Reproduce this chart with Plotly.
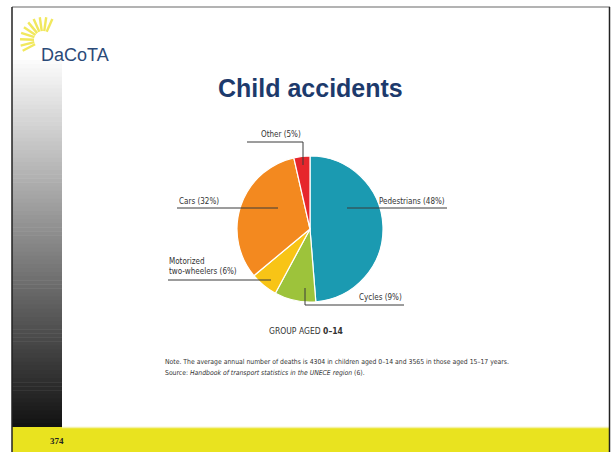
import math
import plotly.graph_objects as go

W, H = 614, 452

categories = ["Pedestrians", "Cycles", "Motorized two-wheelers", "Cars", "Other"]
shares = [48, 9, 6, 32, 3.5]          # slice sizes as drawn
label_pct = [48, 9, 6, 32, 5]         # percentages printed in labels
colors = ["#1b9ab1", "#9dc33b", "#f8c416", "#f3891f", "#e6262c"]

title = "Child accidents"
group_label = "GROUP AGED <b>0\u201314</b>"
note_line = "Note. The average annual number of deaths is 4304 in children aged 0\u201314 and 3565 in those aged 15\u201317 years."
source_line = "Source: <i>Handbook of transport statistics in the UNECE region</i> (6)."
page_number = "374"

def px(x):
    return x / W

def py(y):
    return 1 - y / H

NARROW = "Liberation Sans Narrow, DejaVu Sans Condensed, Arial Narrow, sans-serif"
SANS = "Liberation Sans, Arial, sans-serif"

fig = go.Figure()

# Pie
cx, cy, r = 310, 229, 73
fig.add_trace(go.Pie(
    labels=categories, values=shares, sort=False, direction="clockwise", rotation=0,
    marker=dict(colors=colors, line=dict(color="white", width=1.2)),
    textinfo="none", showlegend=False, hole=0,
    domain=dict(x=[px(cx - r), px(cx + r)], y=[py(cy + r), py(cy - r)]),
))

shapes = []
# left gradient bar
top, bot = 60, 427
n = 90
for i in range(n):
    y0 = top + (bot - top) * i / n
    y1 = top + (bot - top) * (i + 1) / n
    f = (i + 0.5) / n
    g = int(round(252 - f * 235))
    shapes.append(dict(type="rect", xref="paper", yref="paper", x0=px(12), x1=px(62),
                       y0=py(y1 + 0.5), y1=py(y0), fillcolor=f"rgb({g},{g},{g})",
                       line=dict(width=0), layer="below"))
# yellow footer
shapes.append(dict(type="rect", xref="paper", yref="paper", x0=px(12), x1=px(610),
                   y0=0, y1=py(427), fillcolor="#e9e31f", line=dict(width=0), layer="below"))
shapes.append(dict(type="line", xref="paper", yref="paper", x0=px(62), x1=px(610),
                   y0=py(427.5), y1=py(427.5), line=dict(color="#f4f1a8", width=1.5)))
# borders
shapes.append(dict(type="line", xref="paper", yref="paper", x0=px(12), x1=px(610),
                   y0=py(7), y1=py(7), line=dict(color="#9a9a9a", width=1.5)))
shapes.append(dict(type="line", xref="paper", yref="paper", x0=px(12), x1=px(12),
                   y0=0, y1=py(7), line=dict(color="#222222", width=1.5)))
shapes.append(dict(type="line", xref="paper", yref="paper", x0=px(609.5), x1=px(609.5),
                   y0=0, y1=py(7), line=dict(color="#222222", width=1.5)))

# sun rays of logo
scx, scy = 43, 40
for ang in [66, 82, 98, 114, 130, 146, 162, 178, 194, 208]:
    a = math.radians(ang)
    r0, r1 = 9, 23
    shapes.append(dict(type="line", xref="paper", yref="paper",
                       x0=px(scx + r0 * math.cos(a)), y0=py(scy - r0 * math.sin(a)),
                       x1=px(scx + r1 * math.cos(a)), y1=py(scy - r1 * math.sin(a)),
                       line=dict(color="#f1e85e", width=2.4)))

# leader lines
LC = "#3a3a3a"
def seg(x0, y0, x1, y1):
    shapes.append(dict(type="line", xref="paper", yref="paper", x0=px(x0), y0=py(y0),
                       x1=px(x1), y1=py(y1), line=dict(color=LC, width=1)))

seg(347, 208, 447, 208)          # Pedestrians
seg(177, 208, 278, 208)          # Cars
seg(247, 142, 303, 142)          # Other
seg(303, 142, 303, 165)
seg(168, 280, 271, 280)          # Motorized
seg(305, 288, 305, 305)          # Cycles
seg(305, 305, 404, 305)

annotations = []
def txt(x, y, s, size=8, xanchor="left", color="#333333", family=NARROW, align="left"):
    annotations.append(dict(xref="paper", yref="paper", x=px(x), y=py(y), text=s,
                            showarrow=False, xanchor=xanchor, yanchor="middle", align=align,
                            font=dict(family=family, size=size, color=color)))

txt(447, 201, f"{categories[0]} ({label_pct[0]}%)", xanchor="right")
txt(404, 297, f"{categories[1]} ({label_pct[1]}%)", xanchor="right")
txt(167, 266, f"Motorized<br>two-wheelers ({label_pct[2]}%)")
txt(177, 201, f"{categories[3]} ({label_pct[3]}%)")
txt(281, 134, f"{categories[4]} ({label_pct[4]}%)", xanchor="center")

txt(306, 331, group_label, size=8.5, xanchor="center", color="#333333")
txt(163, 362, note_line, size=6.8)
txt(163, 373, source_line, size=6.8)

txt(310, 88, f"<b>{title}</b>", size=25, xanchor="center", color="#1d3a6c", family=SANS)
txt(39, 55, "DaCoTA", size=18, color="#2b4a78", family=SANS)
txt(57, 441, f"<b>{page_number}</b>", size=9, xanchor="center", color="#222222",
    family="Liberation Serif, Times New Roman, serif")

fig.update_layout(width=W, height=H, margin=dict(l=0, r=0, t=0, b=0),
                  paper_bgcolor="white", plot_bgcolor="white",
                  shapes=shapes, annotations=annotations)

fig.write_html("out.html", config={"displayModeBar": False},
               post_script="document.body.style.margin='0';document.body.style.overflow='hidden';")
